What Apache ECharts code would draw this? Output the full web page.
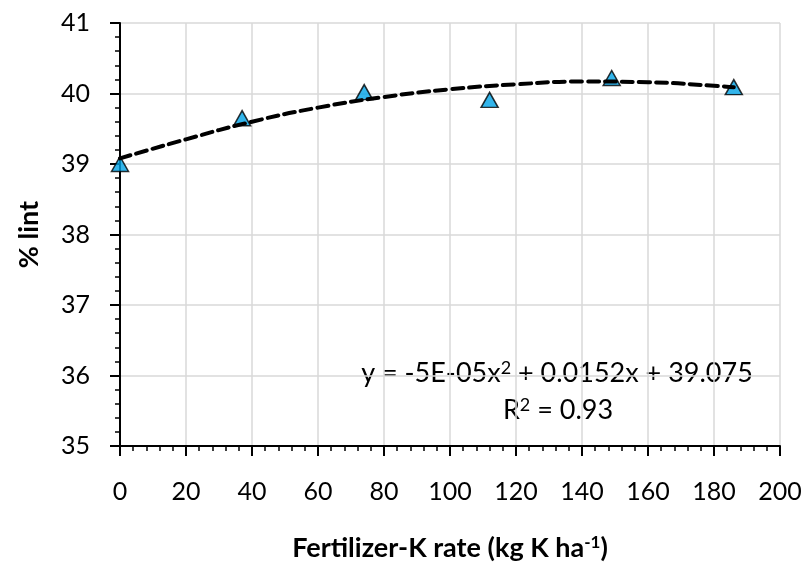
<!DOCTYPE html>
<html>
<head>
<meta charset="utf-8">
<script src="https://cdn.jsdelivr.net/npm/echarts@6/dist/echarts.min.js"></script>
<style>
	html, body { margin: 0; padding: 0; background: #fff; }
	#chart { width: 807px; height: 568px; }
</style>
</head>
<body>
<div id="chart"></div>
<script>
// measured points (x = K rate, y = % lint)
const kRates = [0, 37, 74, 112, 149, 186]
const lintPct = [39.0, 39.65, 40.02, 39.91, 40.22, 40.09]

// trendline
const trendX = [0, 20, 40, 60, 80, 100, 120, 140, 160, 180, 186]
const trendY = [39.08, 39.35, 39.6, 39.8, 39.95, 40.06, 40.13, 40.17, 40.16, 40.11, 40.09]

const xTicks = [0, 200, 20]
const yTicks = [35, 41, 1]

const font = 'Lato, "Open Sans", sans-serif'

const chart = echarts.init(document.getElementById('chart'))

const option = {
	backgroundColor: '#fff',
	animation: false,
	grid: { left: 120, right: 27, top: 23, bottom: 122 },
	xAxis: {
		type: 'value',
		min: xTicks[0],
		max: xTicks[1],
		interval: xTicks[2],
		name: '{t|Fertilizer-K rate (kg K ha}{s|-1}{t|)}',
		nameLocation: 'middle',
		nameGap: 88,
		nameTextStyle: {
			rich: {
				t: { fontFamily: font, fontSize: 27, fontWeight: 'bold', color: '#000' },
				s: { fontFamily: font, fontSize: 17, fontWeight: 'bold', color: '#000', verticalAlign: 'top', padding: [0, 0, 12, 0] },
			},
		},
		axisLine: { lineStyle: { color: '#000', width: 2 } },
		axisTick: { length: 10, lineStyle: { color: '#000', width: 2 } },
		minorTick: { show: true, splitNumber: 5, length: 5, lineStyle: { color: '#000', width: 1.5 } },
		axisLabel: { fontFamily: font, fontSize: 25, color: '#000', margin: 33 },
		splitLine: { show: true, lineStyle: { color: '#d9d9d9', width: 1.5 } },
	},
	yAxis: {
		type: 'value',
		min: yTicks[0],
		max: yTicks[1],
		interval: yTicks[2],
		name: '% lint',
		nameLocation: 'middle',
		nameGap: 77,
		nameTextStyle: { fontFamily: font, fontSize: 27, fontWeight: 'bold', color: '#000' },
		axisLine: { show: true, lineStyle: { color: '#000', width: 2 } },
		axisTick: { show: true, length: 10, lineStyle: { color: '#000', width: 2 } },
		minorTick: { show: true, splitNumber: 5, length: 5, lineStyle: { color: '#000', width: 1.5 } },
		axisLabel: { fontFamily: font, fontSize: 25, color: '#000', margin: 30 },
		splitLine: { show: true, lineStyle: { color: '#d9d9d9', width: 1.5 } },
	},
	graphic: [
		{
			type: 'text',
			x: 557,
			y: 373,
			style: {
				text: '{t|y = -5E-05x}{s|2}{t| + 0.0152x + 39.075}',
				align: 'center',
				verticalAlign: 'middle',
				rich: {
					t: { fontFamily: font, fontSize: 27, fill: '#000' },
					s: { fontFamily: font, fontSize: 18, fill: '#000', verticalAlign: 'top', padding: [0, 0, 10, 0] },
				},
			},
		},
		{
			type: 'text',
			x: 558,
			y: 410,
			style: {
				text: '{t|R}{s|2}{t| = 0.93}',
				align: 'center',
				verticalAlign: 'middle',
				rich: {
					t: { fontFamily: font, fontSize: 27, fill: '#000' },
					s: { fontFamily: font, fontSize: 18, fill: '#000', verticalAlign: 'top', padding: [0, 0, 10, 0] },
				},
			},
		},
	],
	series: [
		{
			type: 'scatter',
			data: kRates.map((x, i) => [x, lintPct[i]]),
			symbol: 'triangle',
			symbolSize: [17, 15],
			itemStyle: { color: '#00a3e6', borderColor: '#000', borderWidth: 1.5 },
			z: 2,
		},
		{
			type: 'line',
			data: trendX.map((x, i) => [x, trendY[i]]),
			smooth: true,
			showSymbol: false,
			lineStyle: { color: '#000', width: 4, type: [11, 6], cap: 'round' },
			z: 3,
		},
	],
}
chart.setOption(option)
</script>
</body>
</html>
